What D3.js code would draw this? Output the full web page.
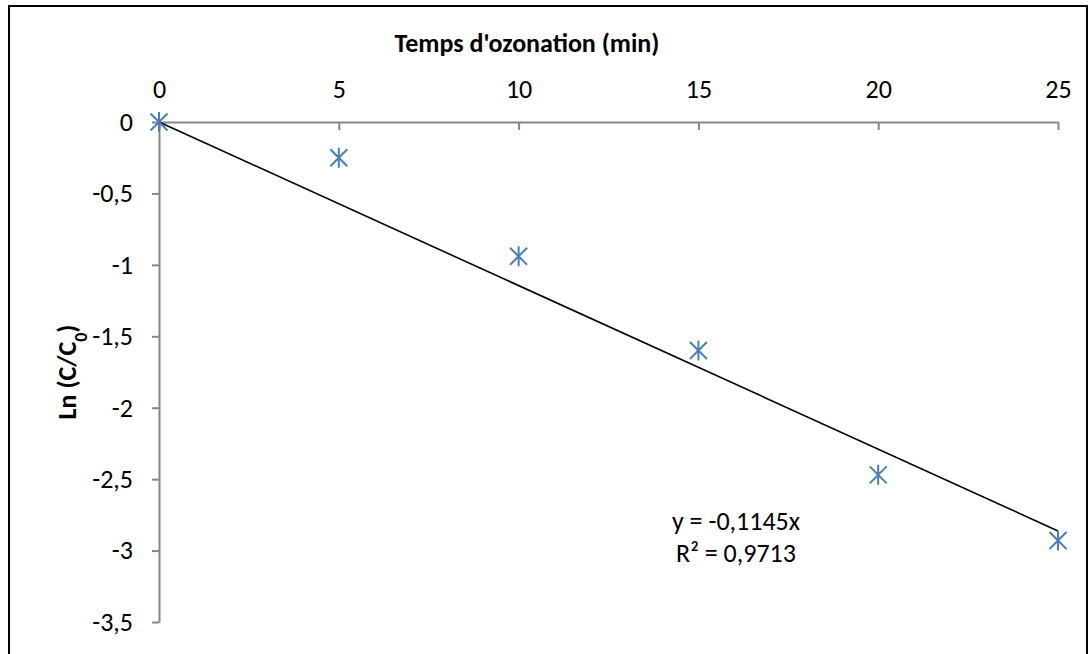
<!DOCTYPE html>
<html>
<head>
<meta charset="utf-8">
<script src="https://cdn.jsdelivr.net/npm/d3@7"></script>
<style>
  body { margin: 0; background: #fff; }
  svg { display: block; font-family: Carlito, Calibri, "Open Sans", sans-serif; }
</style>
</head>
<body>
<div id="chart"></div>
<script>
// data
const times = [0, 5, 10, 15, 20, 25];
const lnValues = [0, -0.25, -0.94, -1.60, -2.47, -2.93];
const xTicks = [0, 5, 10, 15, 20, 25];
const yTicks = [0, -0.5, -1, -1.5, -2, -2.5, -3, -3.5];
const slope = -0.1145;
const r2Label = "R² = 0,9713";
const eqLabel = "y = -0,1145x";

const W = 1091, H = 654;
const fontSize = "26px";

const svg = d3.select("#chart")
    .append("svg")
    .attr("width", W)
    .attr("height", H);

// outer chart border
svg.append("rect")
    .attr("x", 9)
    .attr("y", 6)
    .attr("width", 1078)
    .attr("height", 700)
    .attr("fill", "none")
    .attr("stroke", "#000")
    .attr("stroke-width", 2);

const x = d3.scaleLinear().domain([0, 25]).range([159, 1058]);
const y = d3.scaleLinear().domain([-3.5, 0]).range([622, 122]);

const fmt = d => String(d).replace(".", ",");

// x axis sits on y = 0, labels above
const xAxis = svg.append("g")
    .attr("transform", `translate(0,${y(0)})`)
    .call(d3.axisTop(x).tickValues(xTicks).tickFormat(fmt)
        .tickSize(-8).tickSizeOuter(0).tickPadding(24));

const yAxis = svg.append("g")
    .attr("transform", `translate(${x(0)},0)`)
    .call(d3.axisLeft(y).tickValues(yTicks).tickFormat(fmt)
        .tickSize(7).tickSizeOuter(0).tickPadding(19));

[xAxis, yAxis].forEach(g => {
    g.selectAll("path, line").attr("stroke", "#868686").attr("stroke-width", 2);
    g.selectAll("text")
        .attr("fill", "#000")
        .style("font-size", fontSize)
        .style("font-family", "Carlito, Calibri, 'Open Sans', sans-serif");
});

// axis titles
svg.append("text")
    .attr("x", 527)
    .attr("y", 52)
    .attr("text-anchor", "middle")
    .style("font-size", fontSize)
    .style("font-weight", "bold")
    .text("Temps d'ozonation (min)");

const yTitle = svg.append("text")
    .attr("transform", `translate(76,${(y(0) + y(-3.5)) / 2}) rotate(-90)`)
    .attr("text-anchor", "middle")
    .style("font-size", fontSize)
    .style("font-weight", "bold");
yTitle.append("tspan").text("Ln (C/C");
yTitle.append("tspan").attr("baseline-shift", "sub").style("font-size", "18px").text("0");
yTitle.append("tspan").text(")");

// linear trend line through origin
svg.append("line")
    .attr("x1", x(0))
    .attr("y1", y(0))
    .attr("x2", x(25))
    .attr("y2", y(slope * 25))
    .attr("stroke", "#000")
    .attr("stroke-width", 1.6);

// star markers
const s = 10;
svg.append("g")
    .selectAll("path")
    .data(times.map((t, i) => ({t, v: lnValues[i]})))
    .enter().append("path")
    .attr("transform", d => `translate(${x(d.t)},${y(d.v)})`)
    .attr("d", `M0,${-s}V${s}M${-s * 0.85},${-s * 0.85}L${s * 0.85},${s * 0.85}M${-s * 0.85},${s * 0.85}L${s * 0.85},${-s * 0.85}`)
    .attr("fill", "none")
    .attr("stroke", "#4a7ebb")
    .attr("stroke-width", 2);

// equation label
svg.append("text")
    .attr("x", 736)
    .attr("y", 530)
    .attr("text-anchor", "middle")
    .style("font-size", fontSize)
    .text(eqLabel);

svg.append("text")
    .attr("x", 736)
    .attr("y", 562)
    .attr("text-anchor", "middle")
    .style("font-size", fontSize)
    .text(r2Label);
</script>
</body>
</html>
